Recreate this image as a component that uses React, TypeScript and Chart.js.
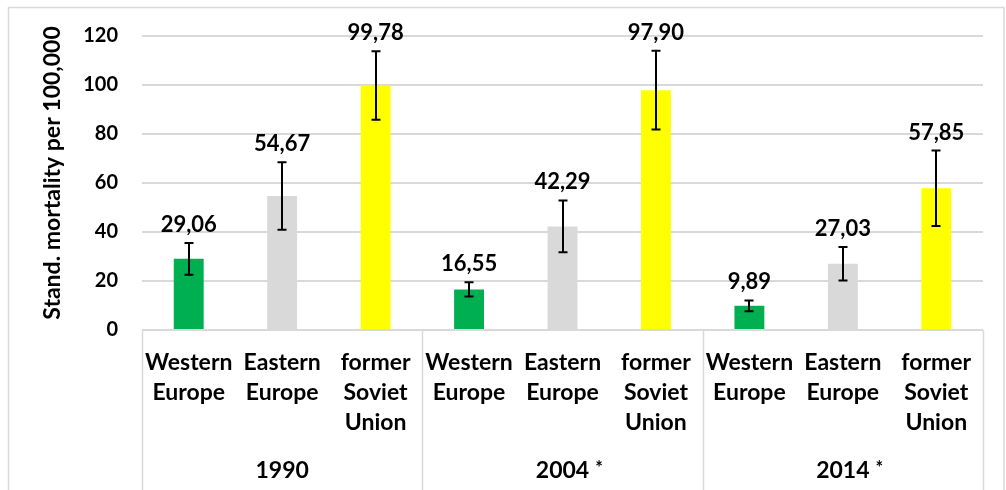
import React, { useEffect, useRef } from 'react';
import { Chart, registerables } from 'chart.js';

Chart.register(...registerables);

// ---- data ----
const years = ['1990', '2004', '2014'];
const yearMarks = ['', '*', '*'];
const regionLabels = [['Western', 'Europe'], ['Eastern', 'Europe'], ['former', 'Soviet', 'Union']];
const regionColors = ['#00B050', '#D9D9D9', '#FFFF00'];
const westernEurope = [29.06, 16.55, 9.89];
const easternEurope = [54.67, 42.29, 27.03];
const formerSovietUnion = [99.78, 97.9, 57.85];
const westernEuropeErr = [6.5, 2.9, 2.2];
const easternEuropeErr = [13.8, 10.6, 6.85];
const formerSovietUnionErr = [14.0, 16.1, 15.4];
const yMin = 0;
const yMax = 120;
const yStep = 20;
const yTitle = 'Stand. mortality per 100,000';

const FONT = 'Lato';
const GRID = '#D9D9D9';

const seriesValues = [westernEurope, easternEurope, formerSovietUnion];
const seriesErrors = [westernEuropeErr, easternEuropeErr, formerSovietUnionErr];

const labels: string[][] = [];
const values: number[] = [];
const errors: number[] = [];
const colors: string[] = [];
years.forEach((_, gi) => {
  regionLabels.forEach((rl, ri) => {
    labels.push(rl);
    values.push(seriesValues[ri][gi]);
    errors.push(seriesErrors[ri][gi]);
    colors.push(regionColors[ri]);
  });
});

const fmt = (v: number) => v.toFixed(2).replace('.', ',');

const decorPlugin = {
  id: 'decor',
  beforeDraw(chart: any) {
    const { ctx, width, height } = chart;
    ctx.save();
    ctx.fillStyle = '#fff';
    ctx.fillRect(0, 0, width, height);
    ctx.strokeStyle = GRID;
    ctx.lineWidth = 1.5;
    ctx.strokeRect(8.5, 7.5, width - 9.5 - 1, height + 20);
    ctx.restore();
  },
  afterDatasetsDraw(chart: any) {
    const { ctx } = chart;
    const y = chart.scales.y;
    const meta = chart.getDatasetMeta(0);
    ctx.save();
    ctx.strokeStyle = '#000';
    ctx.lineWidth = 2;
    meta.data.forEach((bar: any, i: number) => {
      const x = Math.round(bar.x);
      const top = y.getPixelForValue(values[i] + errors[i]);
      const bot = y.getPixelForValue(values[i] - errors[i]);
      ctx.beginPath();
      ctx.moveTo(x, top);
      ctx.lineTo(x, bot);
      ctx.moveTo(x - 4.5, top);
      ctx.lineTo(x + 4.5, top);
      ctx.moveTo(x - 4.5, bot);
      ctx.lineTo(x + 4.5, bot);
      ctx.stroke();
    });
    ctx.restore();
  },
  afterDraw(chart: any) {
    const { ctx, chartArea } = chart;
    const x = chart.scales.x;
    const y = chart.scales.y;
    const meta = chart.getDatasetMeta(0);
    ctx.save();
    // data labels
    ctx.fillStyle = '#000';
    ctx.font = `bold 22px ${FONT}`;
    ctx.textAlign = 'center';
    ctx.textBaseline = 'alphabetic';
    meta.data.forEach((bar: any, i: number) => {
      const top = y.getPixelForValue(values[i] + errors[i]);
      ctx.fillText(fmt(values[i]), bar.x, top - 11);
    });
    // category separators
    ctx.strokeStyle = GRID;
    ctx.lineWidth = 1.5;
    const n = regionLabels.length;
    const bottom = chart.height;
    for (let g = 0; g <= years.length; g++) {
      let px: number;
      if (g === 0) px = chartArea.left;
      else if (g === years.length) px = chartArea.right;
      else px = (x.getPixelForValue(g * n - 1) + x.getPixelForValue(g * n)) / 2;
      ctx.beginPath();
      ctx.moveTo(Math.round(px) + 0.5, chartArea.bottom);
      ctx.lineTo(Math.round(px) + 0.5, bottom);
      ctx.stroke();
    }
    // year labels
    years.forEach((yr, g) => {
      const cx = (x.getPixelForValue(g * n) + x.getPixelForValue(g * n + n - 1)) / 2;
      ctx.font = `bold 23px ${FONT}`;
      ctx.textAlign = 'center';
      ctx.fillText(yr, cx, 478);
      if (yearMarks[g]) {
        const w = ctx.measureText(yr).width;
        ctx.font = `bold 18px ${FONT}`;
        ctx.textAlign = 'left';
        ctx.fillText(yearMarks[g], cx + w / 2 + 6, 474);
      }
    });
    // y title
    ctx.translate(53, (chartArea.top + chartArea.bottom) / 2 - 10);
    ctx.rotate(-Math.PI / 2);
    ctx.font = `bold 23px ${FONT}`;
    ctx.textAlign = 'center';
    ctx.textBaseline = 'middle';
    ctx.fillText(yTitle, 0, 0);
    ctx.restore();
  },
};

export default function App() {
  const ref = useRef<HTMLCanvasElement>(null);
  useEffect(() => {
    if (!ref.current) return;
    const chart = new Chart(ref.current, {
      type: 'bar',
      data: {
        labels,
        datasets: [
          {
            data: values,
            backgroundColor: colors,
            borderWidth: 0,
            barPercentage: 0.32,
            categoryPercentage: 1,
          },
        ],
      },
      options: {
        animation: false,
        responsive: false,
        devicePixelRatio: 1,
        layout: { padding: { left: 0, right: 23, top: 35, bottom: 0 } },
        plugins: { legend: { display: false }, tooltip: { enabled: false } },
        scales: {
          x: {
            grid: { display: false },
            border: { display: false },
            afterFit: (s: any) => {
              s.height = 160;
            },
            ticks: {
              autoSkip: false,
              maxRotation: 0,
              minRotation: 0,
              padding: 10,
              color: '#000',
              font: { family: FONT, weight: 'bold', size: 23, lineHeight: 30 / 23 },
            },
          },
          y: {
            min: yMin,
            max: yMax,
            border: { display: false },
            grid: { color: GRID, lineWidth: 2, drawTicks: false },
            afterFit: (s: any) => {
              s.width = 142;
            },
            ticks: {
              stepSize: yStep,
              padding: 24,
              color: '#000',
              font: { family: FONT, weight: 'bold', size: 20 },
            },
          },
        },
      },
      plugins: [decorPlugin],
    });
    return () => chart.destroy();
  }, []);
  return (
    <div style={{ position: 'fixed', left: 0, top: 0, width: 1006, height: 490 }}>
      <canvas ref={ref} width={1006} height={490} />
    </div>
  );
}
